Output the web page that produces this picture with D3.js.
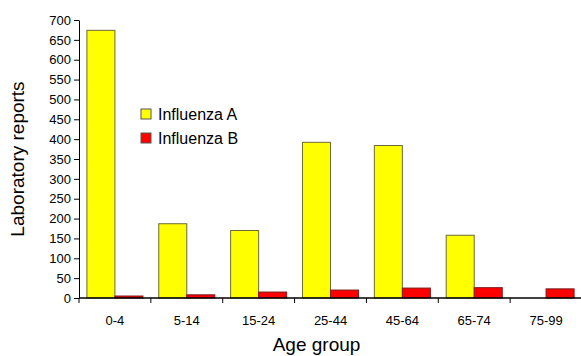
<!DOCTYPE html>
<html>
<head>
<meta charset="utf-8">
<script src="https://cdn.jsdelivr.net/npm/d3@7"></script>
<style>
  body { margin: 0; background: #fff; }
  svg text { font-family: "Liberation Sans", Arial, Helvetica, sans-serif; fill: #000; }
</style>
</head>
<body>
<svg width="581" height="356"></svg>
<script>
const ageGroups = ["0-4", "5-14", "15-24", "25-44", "45-64", "65-74", "75-99"];
const influenzaA = [674, 187, 170, 392, 384, 158, 0];
const influenzaB = [5, 8, 15, 20, 25, 26, 23];
const seriesNames = ["Influenza A", "Influenza B"];
const yTicks = d3.range(0, 701, 50);

const svg = d3.select("svg");
const margin = {top: 20, right: -1, bottom: 58, left: 79};
const width = +svg.attr("width") - margin.left - margin.right;
const height = +svg.attr("height") - margin.top - margin.bottom;
const g = svg.append("g").attr("transform", `translate(${margin.left},${margin.top})`);

const colors = ["#ffff00", "#ff0000"];
const strokes = ["#6b6b3a", "#7a1a1a"];

const x = d3.scaleBand().domain(ageGroups).range([0, width]).paddingInner(0.22).paddingOuter(0.11);
const x1 = d3.scaleBand().domain([0, 1]).range([0, x.bandwidth()]);
const y = d3.scaleLinear().domain([0, 700]).range([height, 0]);

// bars
const rows = ageGroups.map((a, i) => ({age: a, vals: [influenzaA[i], influenzaB[i]]}));
const groups = g.selectAll(".grp").data(rows).enter().append("g")
    .attr("transform", d => `translate(${x(d.age)},0)`);
groups.selectAll("rect").data(d => d.vals.map((v, k) => ({v, k})).filter(e => e.v > 0))
    .enter().append("rect")
    .attr("x", d => x1(d.k))
    .attr("y", d => y(d.v))
    .attr("width", x1.bandwidth())
    .attr("height", d => height - y(d.v))
    .attr("fill", d => colors[d.k])
    .attr("stroke", d => strokes[d.k])
    .attr("stroke-width", 1);

// y axis
const yAxis = g.append("g")
    .call(d3.axisLeft(y).tickValues(yTicks).tickSize(5).tickSizeOuter(0));
yAxis.attr("font-family", null);
yAxis.select(".domain").attr("stroke", "#000");
yAxis.selectAll("text").attr("font-size", 13).attr("x", -8);

// x axis with ticks between groups
const xAxis = g.append("g").attr("transform", `translate(0,${height})`);
xAxis.append("line").attr("x1", 0).attr("x2", width).attr("stroke", "#000").attr("stroke-width", 1.5);
const step = x.step();
xAxis.selectAll(".sep").data(d3.range(ageGroups.length)).enter().append("line")
    .attr("x1", i => i * step).attr("x2", i => i * step)
    .attr("y1", 0).attr("y2", 5).attr("stroke", "#000");
xAxis.selectAll(".lbl").data(ageGroups).enter().append("text")
    .attr("x", d => x(d) + x.bandwidth() / 2)
    .attr("y", 27)
    .attr("text-anchor", "middle")
    .attr("font-size", 13)
    .text(d => d);

// axis titles
svg.append("text")
    .attr("transform", `translate(24,${margin.top + height / 2}) rotate(-90)`)
    .attr("text-anchor", "middle")
    .attr("font-size", 19)
    .text("Laboratory reports");
svg.append("text")
    .attr("x", margin.left + width / 2 - 14)
    .attr("y", 351)
    .attr("text-anchor", "middle")
    .attr("font-size", 19)
    .text("Age group");

// legend
const legend = svg.append("g").attr("transform", "translate(141,109)");
seriesNames.forEach((s, k) => {
  const row = legend.append("g").attr("transform", `translate(0,${k * 24})`);
  row.append("rect").attr("width", 10).attr("height", 10)
      .attr("fill", colors[k]).attr("stroke", "#555");
  row.append("text").attr("x", 17).attr("y", 10.5).attr("font-size", 16).text(s);
});
</script>
</body>
</html>
